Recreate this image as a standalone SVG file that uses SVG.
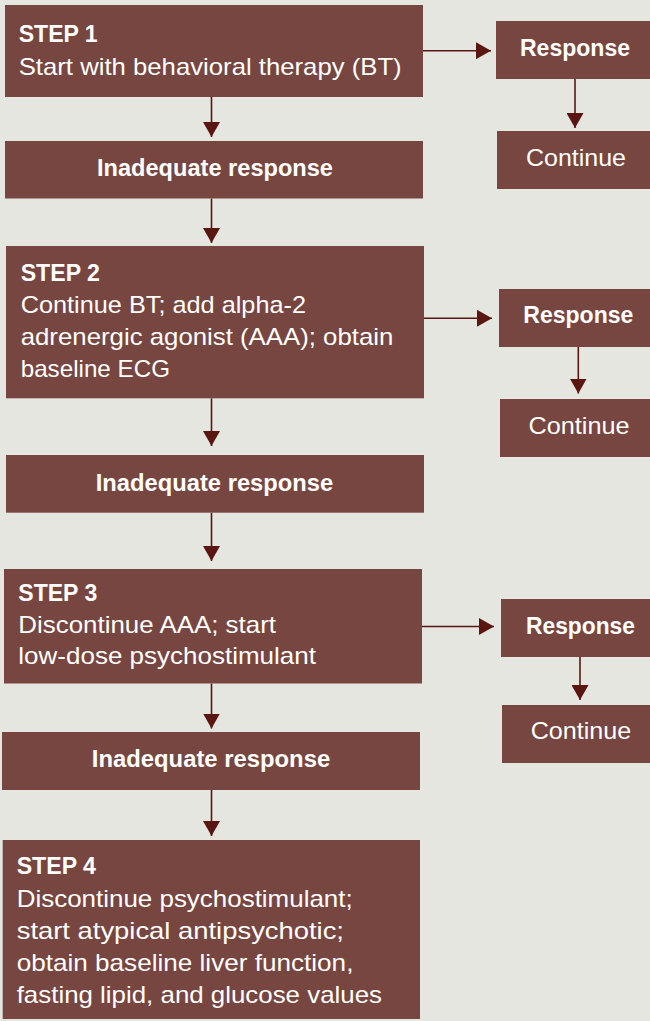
<svg xmlns="http://www.w3.org/2000/svg" width="650" height="1021" viewBox="0 0 650 1021">
<style>
.bg{fill:#e6e6e0}
.box{fill:#784641}
.t{font-family:"Liberation Sans",Arial,sans-serif;font-size:24px;fill:#ffffff}
.b{font-family:"Liberation Sans",Arial,sans-serif;font-size:23px;font-weight:bold;fill:#ffffff}
.c{text-anchor:middle}
.ln{stroke:#5a1712;stroke-width:1.6;fill:none}
</style>
<defs>
<marker id="ah" viewBox="0 0 15 17" refX="15" refY="8.5" markerWidth="15" markerHeight="17" markerUnits="userSpaceOnUse" orient="auto">
<path d="M0,0 L15,8.5 L0,17 Z" fill="#5a1712"/>
</marker>
</defs>
<rect class="bg" x="0" y="0" width="650" height="1021"/>

<g id="connectors">
<line class="ln" x1="423" y1="50.7" x2="491" y2="50.7" marker-end="url(#ah)"/>
<line class="ln" x1="575" y1="79" x2="575" y2="128" marker-end="url(#ah)"/>
<line class="ln" x1="211.5" y1="97" x2="211.5" y2="137" marker-end="url(#ah)"/>
<line class="ln" x1="211.5" y1="198.5" x2="211.5" y2="243" marker-end="url(#ah)"/>
<line class="ln" x1="424" y1="318.3" x2="492" y2="318.3" marker-end="url(#ah)"/>
<line class="ln" x1="578.3" y1="347" x2="578.3" y2="393.5" marker-end="url(#ah)"/>
<line class="ln" x1="211.5" y1="398.3" x2="211.5" y2="446" marker-end="url(#ah)"/>
<line class="ln" x1="211.5" y1="512.7" x2="211.5" y2="561" marker-end="url(#ah)"/>
<line class="ln" x1="422" y1="626.5" x2="494" y2="626.5" marker-end="url(#ah)"/>
<line class="ln" x1="580" y1="657" x2="580" y2="700" marker-end="url(#ah)"/>
<line class="ln" x1="211.5" y1="683.5" x2="211.5" y2="728.5" marker-end="url(#ah)"/>
<line class="ln" x1="211.5" y1="790" x2="211.5" y2="836" marker-end="url(#ah)"/>
</g>

<g id="step1">
<rect class="box" x="5" y="5" width="418" height="92"/>
<text class="b" x="18.7" y="41.7" textLength="79" lengthAdjust="spacingAndGlyphs">STEP 1</text>
<text class="t" x="18.7" y="75" textLength="383" lengthAdjust="spacingAndGlyphs">Start with behavioral therapy (BT)</text>
</g>
<g id="response1">
<rect class="box" x="496" y="21" width="154" height="58"/>
<text class="b c" x="575" y="55.7" textLength="110" lengthAdjust="spacingAndGlyphs">Response</text>
</g>
<g id="continue1">
<rect class="box" x="497" y="131" width="153" height="58"/>
<text class="t c" x="576" y="165.7" textLength="100" lengthAdjust="spacingAndGlyphs">Continue</text>
</g>
<g id="inadequate1">
<rect class="box" x="5" y="141" width="418" height="57.5"/>
<text class="b c" x="215" y="175.7" textLength="236" lengthAdjust="spacingAndGlyphs">Inadequate response</text>
</g>

<g id="step2">
<rect class="box" x="6" y="246" width="418" height="152.3"/>
<text class="b" x="20.7" y="280.7" textLength="79.3" lengthAdjust="spacingAndGlyphs">STEP 2</text>
<text class="t" x="20.7" y="312.7" textLength="285.3" lengthAdjust="spacingAndGlyphs">Continue BT; add alpha-2</text>
<text class="t" x="20.7" y="345" textLength="372.7" lengthAdjust="spacingAndGlyphs">adrenergic agonist (AAA); obtain</text>
<text class="t" x="20.7" y="376.7" textLength="149.3" lengthAdjust="spacingAndGlyphs">baseline ECG</text>
</g>
<g id="response2">
<rect class="box" x="499" y="289" width="151" height="58"/>
<text class="b c" x="578.3" y="323.3" textLength="110" lengthAdjust="spacingAndGlyphs">Response</text>
</g>
<g id="continue2">
<rect class="box" x="500" y="399" width="150" height="58"/>
<text class="t c" x="579" y="434" textLength="101" lengthAdjust="spacingAndGlyphs">Continue</text>
</g>
<g id="inadequate2">
<rect class="box" x="6" y="455" width="418" height="57.7"/>
<text class="b c" x="214.5" y="491" textLength="237.6" lengthAdjust="spacingAndGlyphs">Inadequate response</text>
</g>

<g id="step3">
<rect class="box" x="4" y="569" width="418" height="114.5"/>
<text class="b" x="18.3" y="600.7" textLength="79" lengthAdjust="spacingAndGlyphs">STEP 3</text>
<text class="t" x="18.3" y="632.7" textLength="257.7" lengthAdjust="spacingAndGlyphs">Discontinue AAA; start</text>
<text class="t" x="18.3" y="664" textLength="297.7" lengthAdjust="spacingAndGlyphs">low-dose psychostimulant</text>
</g>
<g id="response3">
<rect class="box" x="501" y="599" width="149" height="58"/>
<text class="b c" x="580.5" y="634" textLength="109" lengthAdjust="spacingAndGlyphs">Response</text>
</g>
<g id="continue3">
<rect class="box" x="502" y="705" width="148" height="58"/>
<text class="t c" x="581" y="739" textLength="100.7" lengthAdjust="spacingAndGlyphs">Continue</text>
</g>
<g id="inadequate3">
<rect class="box" x="2" y="732" width="418" height="58"/>
<text class="b c" x="211" y="767.3" textLength="238.3" lengthAdjust="spacingAndGlyphs">Inadequate response</text>
</g>

<g id="step4">
<rect class="box" x="2.7" y="840" width="417.3" height="179"/>
<text class="b" x="16.7" y="874.3" textLength="79.3" lengthAdjust="spacingAndGlyphs">STEP 4</text>
<text class="t" x="16.7" y="906.7" textLength="336" lengthAdjust="spacingAndGlyphs">Discontinue psychostimulant;</text>
<text class="t" x="16.7" y="939" textLength="327.3" lengthAdjust="spacingAndGlyphs">start atypical antipsychotic;</text>
<text class="t" x="16.7" y="970.7" textLength="336.7" lengthAdjust="spacingAndGlyphs">obtain baseline liver function,</text>
<text class="t" x="16.7" y="1002.7" textLength="365.3" lengthAdjust="spacingAndGlyphs">fasting lipid, and glucose values</text>
</g>
</svg>
